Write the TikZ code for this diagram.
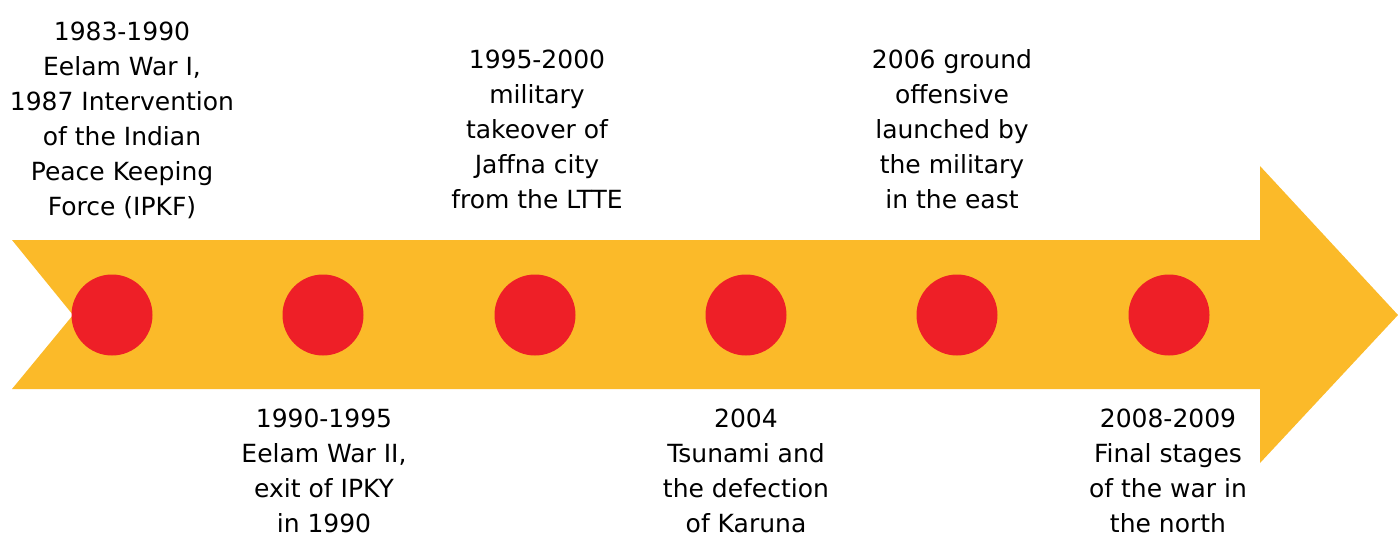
\documentclass[tikz,border=0pt]{standalone}
\usepackage{fontspec}
\setmainfont{DejaVu Sans}
\definecolor{arrowyellow}{RGB}{251,186,41}
\definecolor{dotred}{RGB}{238,31,39}
\tikzset{
  dot/.style={circle, fill=dotred, draw=none, minimum size=81pt, inner sep=0pt},
  label/.style={align=center, inner sep=0pt, text=black, font=\fontsize{25}{35}\selectfont}
}
\begin{document}
\begin{tikzpicture}[x=1pt,y=-1pt]
\useasboundingbox (0,0) rectangle (1398,539);
\fill[arrowyellow] (12,240) -- (1260,240) -- (1260,166) -- (1398,315) -- (1260,463) -- (1260,389) -- (12,389) -- (73,315) -- cycle;
\node[dot] (c1) at (112,315) {};
\node[dot] (c2) at (323,315) {};
\node[dot] (c3) at (535,315) {};
\node[dot] (c4) at (746,315) {};
\node[dot] (c5) at (957,315) {};
\node[dot] (c6) at (1169,315) {};
\node[label] (t1) at (122,120) {1983-1990\\Eelam War I,\\1987 Intervention\\of the Indian\\Peace Keeping\\Force (IPKF)};
\node[label] (t3) at (537,129) {1995-2000\\military\\takeover of\\Jaffna city\\from the LTTE};
\node[label] (t5) at (952,129) {2006 ground\\offensive\\launched by\\the military\\in the east};
\node[label] (t2) at (324,471) {1990-1995\\Eelam War II,\\exit of IPKY\\in 1990};
\node[label] (t4) at (746,471) {2004\\Tsunami and\\the defection\\of Karuna};
\node[label] (t6) at (1168,471) {2008-2009\\Final stages\\of the war in\\the north};
\end{tikzpicture}
\end{document}
